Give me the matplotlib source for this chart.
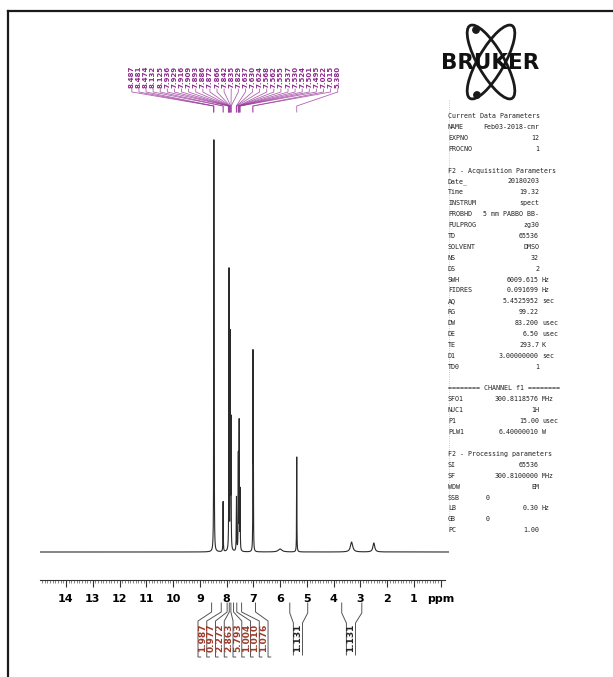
import numpy as np
import matplotlib.pyplot as plt
from matplotlib.patches import Ellipse, Circle
from matplotlib.transforms import blended_transform_factory

# peaks (ppm, height, half width in ppm)
peak_ppm = [8.475, 8.462, 8.130, 7.910, 7.862, 7.835, 7.630, 7.562, 7.530, 7.495,
            7.015, 7.000, 6.000, 5.380, 3.330, 2.500]
peak_height = [398, 80, 50, 280, 212, 125, 54, 95, 128, 60,
               192, 105, 3, 95, 10, 9]
peak_width = [0.006, 0.006, 0.006, 0.006, 0.006, 0.006, 0.008, 0.006, 0.006, 0.006,
              0.005, 0.005, 0.08, 0.006, 0.05, 0.04]

# peak pick labels (top)
pick_labels = ["8.487", "8.481", "8.474", "8.132", "8.125", "7.936", "7.929", "7.916",
               "7.909", "7.893", "7.886", "7.872", "7.866", "7.842", "7.835", "7.829",
               "7.637", "7.630", "7.624", "7.568", "7.562", "7.555", "7.537", "7.530",
               "7.524", "7.501", "7.495", "7.022", "7.015", "5.380"]

# integrals (bottom)
cluster_edges = [8.56, 8.20, 7.98, 7.90, 7.84, 7.74, 7.62, 7.44, 6.92]
cluster_values = ["1.987", "0.977", "2.272", "2.863", "5.793", "1.004", "1.010", "1.076"]
single_ranges = [(5.64, 4.97), (3.70, 2.95)]
single_values = ["1.131", "1.131"]

ppm_ticks = list(range(0, 15))
ppm_ticklabels = ["ppm"] + [str(i) for i in range(1, 15)]

# parameter block
param_lines = [
    ("Current Data Parameters", "", ""),
    ("NAME", "Feb03-2018-cmr", ""),
    ("EXPNO", "12", ""),
    ("PROCNO", "1", ""),
    None,
    ("F2 - Acquisition Parameters", "", ""),
    ("Date_", "20180203", ""),
    ("Time", "19.32", ""),
    ("INSTRUM", "spect", ""),
    ("PROBHD", "5 mm PABBO BB-", ""),
    ("PULPROG", "zg30", ""),
    ("TD", "65536", ""),
    ("SOLVENT", "DMSO", ""),
    ("NS", "32", ""),
    ("DS", "2", ""),
    ("SWH", "6009.615", "Hz"),
    ("FIDRES", "0.091699", "Hz"),
    ("AQ", "5.4525952", "sec"),
    ("RG", "99.22", ""),
    ("DW", "83.200", "usec"),
    ("DE", "6.50", "usec"),
    ("TE", "293.7", "K"),
    ("D1", "3.00000000", "sec"),
    ("TD0", "1", ""),
    None,
    ("======== CHANNEL f1 ========", "", ""),
    ("SFO1", "300.8118576", "MHz"),
    ("NUC1", "1H", ""),
    ("P1", "15.00", "usec"),
    ("PLW1", "6.40000010", "W"),
    None,
    ("F2 - Processing parameters", "", ""),
    ("SI", "65536", ""),
    ("SF", "300.8100000", "MHz"),
    ("WDW", "EM", ""),
    ("SSB", "0", "left"),
    ("LB", "0.30", "Hz"),
    ("GB", "0", "left"),
    ("PC", "1.00", ""),
]

W, H = 613, 677
fig = plt.figure(figsize=(W / 100, H / 100), dpi=100)


def px_rect(x0, y0, x1, y1):
    return [x0 / W, 1 - y1 / H, (x1 - x0) / W, (y1 - y0) / H]


# spectrum
ax = fig.add_axes(px_rect(40, 100, 448.8, 560))
x = np.linspace(-0.30, 14.97, 30000)
y = np.zeros_like(x)
for p, h, w in zip(peak_ppm, peak_height, peak_width):
    y += h * w ** 2 / ((x - p) ** 2 + w ** 2)
ax.plot(x, y, color='#2b2b2b', lw=0.8)
ax.set_xlim(14.97, -0.30)
ax.set_ylim(-8, 452)
ax.axis('off')

# ppm ruler
rl = fig.add_axes(px_rect(40, 579, 448.8, 580))
rl.patch.set_alpha(0)
rl.set_xlim(14.97, -0.30)
for s in ['left', 'right', 'top']:
    rl.spines[s].set_visible(False)
rl.spines['bottom'].set_bounds(-0.15, 14.97)
rl.spines['bottom'].set_color('#333333')
rl.set_yticks([])
rl.set_xticks(ppm_ticks)
rl.set_xticklabels(ppm_ticklabels, fontsize=8, fontweight='bold')
rl.set_xticks(np.arange(0, 150) / 10.0, minor=True)
rl.tick_params(axis='x', which='major', length=5, width=0.8, pad=5, color='#333333')
rl.tick_params(axis='x', which='minor', length=2.5, width=0.5, color='#555555')

# overlay in pixel units
ov = fig.add_axes([0, 0, 1, 1])
ov.set_xlim(0, W)
ov.set_ylim(H, 0)
ov.axis('off')
ov.patch.set_alpha(0)
tr = blended_transform_factory(ax.transData, ov.transData)

# frame
ov.plot([8, 8], [11, H], color='#1a1a1a', lw=1.6, clip_on=False)
ov.plot([8, W], [11, 11], color='#1a1a1a', lw=1.6, clip_on=False)
ov.plot([449, 449], [100, 533], color='#bbbbbb', lw=0.6, ls=':')

# peak pick labels with fan lines
lab_pos = np.linspace(11.54, 3.85, len(pick_labels))
for lp, lab in zip(lab_pos, pick_labels):
    target = float(lab)
    ov.text(lp, 88, lab, transform=tr, rotation=90, fontsize=5, color='#8a2a8a',
            ha='center', va='bottom', fontweight='bold')
    ov.plot([lp, lp, target, target], [89, 92, 106, 112], transform=tr,
            color='#9c3d9c', lw=0.6, alpha=0.8)

# integrals - cluster
cl_center = 7.76
cl_step = 0.327
n = len(cluster_values)
col_edges = [cl_center + cl_step * (n / 2 - k) for k in range(n + 1)]
for e, c in zip(cluster_edges, col_edges):
    ov.plot([e, e, c, c, c - 0.1], [603, 612, 621, 657, 657], transform=tr,
            color='#555555', lw=0.7)
for k, v in enumerate(cluster_values):
    cx = (col_edges[k] + col_edges[k + 1]) / 2
    ov.text(cx, 638, v, transform=tr, rotation=90, fontsize=6.5, color='#9c3b2b',
            ha='center', va='center', fontweight='bold')

# integrals - singles
for (a, b), v in zip(single_ranges, single_values):
    cx = (a + b) / 2 + 0.03
    for e, c in [(a, cx + 0.17), (b, cx - 0.17)]:
        ov.plot([e, e, c, c], [603, 613, 623, 655], transform=tr,
                color='#555555', lw=0.7)
    ov.text(cx, 638, v, transform=tr, rotation=90, fontsize=6.5, color='#222222',
            ha='center', va='center', fontweight='bold')

# Bruker logo
for ang in (60, -60):
    ov.add_patch(Ellipse((491, 62), 84, 26, angle=ang, fill=False,
                         ec='#1a1a1a', lw=2.0))
for cx, cy in [(476, 30), (477, 95)]:
    ov.add_patch(Circle((cx, cy), 3.2, color='#1a1a1a'))
ov.text(490, 63, "BRUKER", fontsize=15.5, fontweight='bold', color='#111111',
        ha='center', va='center')

# parameter text
y0 = 116
lh = 10.9
mono = dict(family='DejaVu Sans Mono', fontsize=4.8, color='#222222', va='center')
for i, item in enumerate(param_lines):
    if item is None:
        continue
    yy = y0 + i * lh
    name, val, unit = item
    ov.text(448, yy, name, ha='left', **mono)
    if unit == "left":
        ov.text(486, yy, val, ha='left', **mono)
    elif val:
        ov.text(539, yy, val, ha='right', **mono)
        if unit:
            ov.text(542, yy, unit, ha='left', **mono)

fig.savefig('out.png', dpi=100)
